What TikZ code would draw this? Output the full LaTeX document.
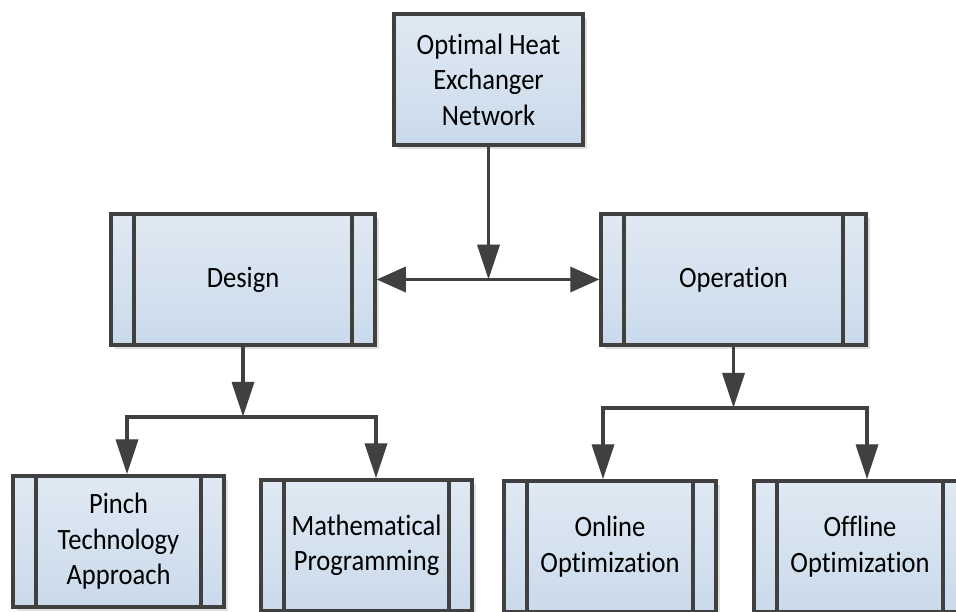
\documentclass[tikz,border=0pt]{standalone}
\usepackage{fontspec}
\setmainfont{Carlito}[FakeStretch=0.9,Ligatures={NoCommon}]
\usetikzlibrary{arrows.meta,shadows,backgrounds}
\definecolor{edgec}{RGB}{64,64,64}
\definecolor{topc}{RGB}{224,233,243}
\definecolor{botc}{RGB}{202,218,235}
\definecolor{shadc}{RGB}{224,224,224}
\newcommand\hxconns{%
  \draw[conn] (top.south) -- (tj);
  \draw[hconn] (design.east) -- (operation.west);
  \draw[conn] (design.south) -- (dj);
  \draw[conn2] (dl |- pinch.north) |- (dr) -- (dr |- math.north);
  \draw[conn] (operation.south) -- (oj);
  \draw[conn2] (ol |- online.north) |- (orr) -- (orr |- offline.north);
}
\begin{document}
\begin{tikzpicture}[x=1pt,y=-1pt,
  box/.style={draw=edgec, line width=3.5pt, top color=topc, bottom color=botc,
    minimum height=131pt, inner sep=0pt, align=center, text=black,
    font=\fontsize{29.5}{35.5}\selectfont,
    drop shadow={shadow xshift=4pt,shadow yshift=-4pt,fill=shadc,opacity=1}},
  sub/.style={box, path picture={
    \draw[edgec, line width=3.5pt]
      ([xshift=23pt]path picture bounding box.north west) -- ([xshift=23pt]path picture bounding box.south west)
      ([xshift=-23pt]path picture bounding box.north east) -- ([xshift=-23pt]path picture bounding box.south east);}},
  conn/.style={draw=edgec, line width=3.5pt, -{Triangle[length=35pt,width=22pt]}},
  conn2/.style={draw=edgec, line width=3.5pt, {Triangle[length=35pt,width=22pt]}-{Triangle[length=35pt,width=22pt]}},
  hconn/.style={draw=edgec, line width=3.5pt, {Triangle[length=29pt,width=25pt]}-{Triangle[length=29pt,width=25pt]}},
]
\useasboundingbox (0,0) rectangle (956,611);
\clip (0,0) rectangle (956,611);

\node[box, minimum width=189pt] (top) at (488.5,79.5) {Optimal Heat\\Exchanger\\Network};
\node[sub, minimum width=264pt] (design) at (243,279.5) {Design};
\node[sub, minimum width=265pt] (operation) at (733.5,279.5) {Operation};
\node[sub, minimum width=211pt] (pinch) at (118.5,541.5) {Pinch\\Technology\\Approach};
\node[sub, minimum width=211pt] (math) at (366.5,545.5) {Mathematical\\Programming};
\node[sub, minimum width=212pt] (online) at (610,546.5) {Online\\Optimization};
\node[sub, minimum width=212pt] (offline) at (860,546.5) {Offline\\Optimization};

\coordinate (tj) at (top.south |- design.east);
\path (design.south) ++(0,70) coordinate (dj);
\coordinate (dl) at (127,417);
\coordinate (dr) at (376,417);
\path (operation.south) ++(0,61) coordinate (oj);
\coordinate (ol) at (603,408);
\coordinate (orr) at (867,408);

\begin{scope}[on background layer, transform canvas={shift={(3.5pt,-3.5pt)}},
  conn/.append style={draw=shadc}, conn2/.append style={draw=shadc}, hconn/.append style={draw=shadc}]
  \hxconns
\end{scope}
\hxconns
\end{tikzpicture}
\end{document}
